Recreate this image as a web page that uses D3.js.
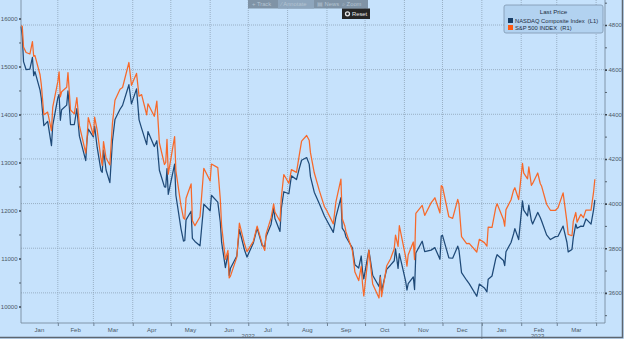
<!DOCTYPE html>
<html>
<head>
<meta charset="utf-8">
<script src="https://cdn.jsdelivr.net/npm/d3@7"></script>
<style>
  body { margin: 0; background: #c6e2fc; }
  svg { display: block; font-family: "Liberation Sans", Arial, sans-serif; }
  .tick-label { font-size: 6px; fill: #4b5866; }
  .grid line { stroke: #8ea3b8; stroke-dasharray: 1,1; stroke-width: 0.8; }
</style>
</head>
<body>
<script>
// Chart data (daily closes, sampled)
var dates = [
  "2022-01-03","2022-01-04","2022-01-05","2022-01-07","2022-01-10","2022-01-12","2022-01-13","2022-01-14","2022-01-18","2022-01-19","2022-01-21","2022-01-24","2022-01-27","2022-01-28",
  "2022-02-01","2022-02-02","2022-02-03","2022-02-04","2022-02-08","2022-02-09","2022-02-10","2022-02-11","2022-02-14","2022-02-16","2022-02-18","2022-02-23","2022-02-24","2022-02-25",
  "2022-03-01","2022-03-02","2022-03-04","2022-03-07","2022-03-08","2022-03-09","2022-03-11","2022-03-14","2022-03-16","2022-03-18","2022-03-22","2022-03-24","2022-03-29","2022-03-31",
  "2022-04-04","2022-04-06","2022-04-08","2022-04-12","2022-04-13","2022-04-18","2022-04-20","2022-04-22","2022-04-26","2022-04-27","2022-04-28","2022-04-29",
  "2022-05-04","2022-05-05","2022-05-09","2022-05-11","2022-05-12","2022-05-13","2022-05-17","2022-05-18","2022-05-20","2022-05-24","2022-05-27",
  "2022-06-01","2022-06-02","2022-06-07","2022-06-09","2022-06-10","2022-06-13","2022-06-15","2022-06-16","2022-06-17","2022-06-22","2022-06-24","2022-06-28","2022-06-30",
  "2022-07-05","2022-07-08","2022-07-12","2022-07-14","2022-07-15","2022-07-19","2022-07-21","2022-07-22","2022-07-26","2022-07-27","2022-07-29",
  "2022-08-02","2022-08-04","2022-08-08","2022-08-10","2022-08-12","2022-08-16","2022-08-18","2022-08-19","2022-08-22","2022-08-26","2022-08-30",
  "2022-09-01","2022-09-06","2022-09-08","2022-09-12","2022-09-13","2022-09-15","2022-09-16","2022-09-21","2022-09-23","2022-09-26","2022-09-28","2022-09-29","2022-09-30",
  "2022-10-04","2022-10-07","2022-10-12","2022-10-13","2022-10-14","2022-10-18","2022-10-21","2022-10-24","2022-10-25","2022-10-27","2022-10-28",
  "2022-11-02","2022-11-03","2022-11-04","2022-11-08","2022-11-09","2022-11-10","2022-11-15","2022-11-17","2022-11-22","2022-11-25","2022-11-29","2022-11-30",
  "2022-12-01","2022-12-06","2022-12-09","2022-12-13","2022-12-14","2022-12-16","2022-12-20","2022-12-22","2022-12-28","2022-12-30",
  "2023-01-03","2023-01-05","2023-01-06","2023-01-09","2023-01-12","2023-01-13","2023-01-18","2023-01-19","2023-01-20","2023-01-24","2023-01-26","2023-01-27","2023-01-30",
  "2023-02-02","2023-02-03","2023-02-06","2023-02-07","2023-02-09","2023-02-10","2023-02-14","2023-02-16","2023-02-17","2023-02-21","2023-02-24","2023-02-28",
  "2023-03-02","2023-03-06","2023-03-09","2023-03-10","2023-03-13","2023-03-14","2023-03-16","2023-03-17","2023-03-20","2023-03-22","2023-03-24","2023-03-28","2023-03-30","2023-03-31"
];

var nasdaq = [
  15833,15622,15100,14936,14943,15188,14807,14894,14506,14341,13769,13856,13353,13771,
  14346,14418,13879,14098,14195,14490,14186,13791,13791,14124,13548,13037,13474,13694,
  13532,13752,13313,12830,12796,13256,12843,12581,13437,13894,14109,14191,14620,14221,
  14533,13888,13711,13372,13643,13332,13453,12839,12491,12489,12872,12335,
  12965,12318,11623,11364,11371,11805,11985,11418,11355,11264,12131,
  11994,12317,12175,11754,11340,10809,11099,10646,10798,11053,11608,11182,11029,
  11322,11635,11265,11251,11452,11714,12059,11834,11563,12032,12391,
  12349,12721,12644,12855,13047,13103,12966,12705,12381,12141,11884,
  11785,11544,11862,12266,11634,11552,11448,11220,10868,10802,11052,10737,10576,
  11176,10652,10417,10649,10321,10773,10860,10953,11199,10793,11102,
  10525,10343,10475,10616,10353,11114,11359,11145,11174,11226,10984,11468,
  11482,11015,11005,11256,11170,10705,10547,10477,10213,10466,
  10386,10305,10569,10635,11001,11079,10958,10852,11140,11334,11512,11622,11394,
  12200,12007,11887,12114,11790,11718,11960,11855,11787,11492,11395,11456,
  11463,11675,11338,11138,11189,11428,11717,11630,11675,11670,11824,11716,12013,12222
];

var spx = [
  4797,4794,4701,4677,4670,4726,4660,4663,4577,4533,4398,4410,4327,4432,
  4546,4590,4478,4501,4521,4587,4504,4419,4402,4475,4349,4226,4289,4385,
  4306,4387,4329,4201,4171,4278,4204,4173,4358,4463,4512,4520,4632,4530,
  4583,4481,4488,4397,4447,4391,4459,4272,4175,4184,4288,4132,
  4300,4147,3991,3935,3930,4024,4088,3924,3901,3941,4158,
  4101,4177,4161,4018,3901,3750,3790,3667,3675,3760,3912,3821,3785,
  3831,3899,3819,3790,3863,3937,3999,3962,3921,4024,4130,
  4091,4152,4140,4210,4280,4305,4284,4228,4138,4058,3986,
  3967,3909,4006,4110,3933,3901,3873,3790,3693,3655,3719,3640,3586,
  3791,3640,3577,3670,3583,3720,3752,3798,3859,3808,3901,
  3760,3720,3771,3828,3749,3956,3992,3947,4003,4026,3958,4080,
  4076,3941,3934,4019,3996,3852,3821,3822,3783,3840,
  3825,3809,3895,3893,3983,3999,3929,3899,3973,4017,4060,4071,4018,
  4180,4136,4111,4164,4082,4090,4137,4090,4079,3997,3970,3970,
  3981,4048,3919,3862,3856,3920,3960,3917,3952,3937,3971,3971,4051,4109
];

var leftTicks = [10000, 11000, 12000, 13000, 14000, 15000, 16000];
var rightTicks = [3600, 3800, 4000, 4200, 4400, 4600, 4800];
var yearLabels = ["2022", "2023"];
var seriesNames = ["NASDAQ Composite Index  (L1)", "S&P 500 INDEX  (R1)"];
var seriesColors = ["#1f4a78", "#f7692a"];
var toolbarItems = ["+ Track", "\u2215 Annotate", "\u25A4 News", "\u2315 Zoom"];

console.log(dates.length, nasdaq.length, spx.length);

// Chart Params
var svgWidth = 624;
var svgHeight = 339;
var margin = { top: 0, right: 19, bottom: 16, left: 21 };
var width = svgWidth - margin.left - margin.right;
var height = svgHeight - margin.top - margin.bottom;

var parseDate = d3.timeParse("%Y-%m-%d");
var data = dates.map(function (d, i) {
  return { date: parseDate(d), nasdaq: nasdaq[i], spx: spx[i] };
});

var svg = d3.select("body")
  .append("svg")
  .attr("width", svgWidth)
  .attr("height", svgHeight);

svg.append("rect")
  .attr("width", svgWidth)
  .attr("height", svgHeight)
  .attr("fill", "#c6e2fc");

var chartGroup = svg.append("g")
  .attr("transform", `translate(${margin.left}, ${margin.top})`);

// scales
var xScale = d3.scaleTime()
  .domain([parseDate("2022-01-03"), parseDate("2023-04-08")])
  .range([0, width]);

var yLeft = d3.scaleLinear()
  .domain([9656, 16385])
  .range([height, 0]);

var yRight = d3.scaleLinear()
  .domain([3465, 4912])
  .range([height, 0]);

// grid lines
var monthStarts = d3.timeMonth.range(parseDate("2022-02-01"), parseDate("2023-04-02"));

chartGroup.append("g")
  .attr("class", "grid")
  .selectAll("line")
  .data(monthStarts)
  .enter()
  .append("line")
  .attr("x1", d => xScale(d))
  .attr("x2", d => xScale(d))
  .attr("y1", 0)
  .attr("y2", height);

chartGroup.append("g")
  .attr("class", "grid")
  .selectAll("line")
  .data(rightTicks)
  .enter()
  .append("line")
  .attr("x1", 0)
  .attr("x2", width)
  .attr("y1", d => yRight(d))
  .attr("y2", d => yRight(d));

// lines
var nasdaqLine = d3.line()
  .x(d => xScale(d.date))
  .y(d => yLeft(d.nasdaq));

var spxLine = d3.line()
  .x(d => xScale(d.date))
  .y(d => yRight(d.spx));

chartGroup.append("path")
  .datum(data)
  .attr("fill", "none")
  .attr("stroke", seriesColors[0])
  .attr("stroke-width", 1.25)
  .attr("stroke-linejoin", "round")
  .attr("d", nasdaqLine);

chartGroup.append("path")
  .datum(data)
  .attr("fill", "none")
  .attr("stroke", seriesColors[1])
  .attr("stroke-width", 1.25)
  .attr("stroke-linejoin", "round")
  .attr("d", spxLine);

// frame
chartGroup.append("path")
  .attr("d", `M0,0V${height}H${width}V0`)
  .attr("fill", "none")
  .attr("stroke", "#6f8396")
  .attr("stroke-width", 0.8);

// left axis
var leftAxis = d3.axisLeft(yLeft)
  .tickValues(d3.range(10000, 16001, 500))
  .tickSize(2)
  .tickFormat(d => (leftTicks.indexOf(d) >= 0 ? d : ""));

var gLeft = chartGroup.append("g").call(leftAxis);
gLeft.select(".domain").remove();
gLeft.selectAll("line").attr("stroke", "#3b4652").attr("stroke-width", d => (d % 1000 === 0 ? 1.6 : 0.8));
gLeft.selectAll("text").attr("class", "tick-label").attr("font-size", null).attr("font-family", null).attr("x", -3.5);

// right axis
var rightAxis = d3.axisRight(yRight)
  .tickValues(d3.range(3500, 4901, 100))
  .tickSize(2)
  .tickFormat(d => (rightTicks.indexOf(d) >= 0 ? d : ""));

var gRight = chartGroup.append("g")
  .attr("transform", `translate(${width}, 0)`)
  .call(rightAxis);
gRight.select(".domain").remove();
gRight.selectAll("line").attr("stroke", "#3b4652").attr("stroke-width", d => (d % 200 === 0 ? 1.6 : 0.8));
gRight.selectAll("text").attr("class", "tick-label").attr("font-size", null).attr("font-family", null).attr("x", 3.5);

// bottom axis: month boundaries as ticks, labels centred in months
var bottomAxis = d3.axisBottom(xScale)
  .tickValues(monthStarts)
  .tickSize(3)
  .tickFormat("");
var gBottom = chartGroup.append("g")
  .attr("transform", `translate(0, ${height})`)
  .call(bottomAxis);
gBottom.select(".domain").remove();
gBottom.selectAll("line").attr("stroke", "#6f8396");

var monthMids = d3.timeMonth.range(parseDate("2022-01-01"), parseDate("2023-04-01")).map(function (m) {
  var next = d3.timeMonth.offset(m, 1);
  var a = Math.max(xScale(m), 0);
  return { x: (a + xScale(next)) / 2, label: d3.timeFormat("%b")(m) };
});

chartGroup.selectAll(".month-label")
  .data(monthMids)
  .enter()
  .append("text")
  .attr("class", "tick-label")
  .attr("x", d => d.x)
  .attr("y", height + 8.5)
  .attr("text-anchor", "middle")
  .text(d => d.label);

// years, placed under Jul 2022 and Feb 2023
var yearAnchors = [parseDate("2022-07-01"), parseDate("2023-02-14")];
chartGroup.selectAll(".year-label")
  .data(yearLabels)
  .enter()
  .append("text")
  .attr("class", "tick-label")
  .attr("x", (d, i) => xScale(yearAnchors[i]))
  .attr("y", height + 14.5)
  .attr("text-anchor", "middle")
  .text(d => d);

chartGroup.append("line")
  .attr("x1", xScale(parseDate("2023-01-01")))
  .attr("x2", xScale(parseDate("2023-01-01")))
  .attr("y1", height)
  .attr("y2", svgHeight)
  .attr("stroke", "#6f8396")
  .attr("stroke-width", 0.8);

// legend
var legend = svg.append("g").attr("transform", "translate(504, 5)");
legend.append("rect")
  .attr("width", 99)
  .attr("height", 28)
  .attr("rx", 2)
  .attr("fill", "#b2d2f0")
  .attr("stroke", "#7d96ad")
  .attr("stroke-width", 0.8);
legend.append("text")
  .attr("x", 49.5)
  .attr("y", 9)
  .attr("text-anchor", "middle")
  .attr("font-size", 6.2)
  .attr("fill", "#1d2d44")
  .text("Last Price");
var rows = legend.selectAll(".row")
  .data(seriesNames)
  .enter()
  .append("g")
  .attr("transform", (d, i) => `translate(4, ${13 + i * 7})`);
rows.append("rect")
  .attr("width", 5)
  .attr("height", 5)
  .attr("fill", (d, i) => (i === 1 ? "#ff5a12" : "#163d66"));
rows.append("text")
  .attr("x", 7)
  .attr("y", 4.6)
  .attr("font-size", 5.8)
  .attr("fill", "#1d2d44")
  .attr("xml:space", "preserve")
  .text(d => d);

// toolbar
var toolbar = svg.append("g").attr("transform", "translate(248, 0)");
toolbar.append("rect")
  .attr("width", 120)
  .attr("height", 8.5)
  .attr("fill", "#7f93a6");
toolbar.append("rect")
  .attr("x", 30)
  .attr("width", 36)
  .attr("height", 8.5)
  .attr("fill", "#8ea6bd");
var itemX = [4, 33, 69, 94];
toolbar.selectAll(".tool")
  .data(toolbarItems)
  .enter()
  .append("text")
  .attr("x", (d, i) => itemX[i])
  .attr("y", 6.3)
  .attr("font-size", 5.8)
  .attr("fill", "#b4c4d2")
  .text(d => d);

var reset = svg.append("g").attr("transform", "translate(342, 8.5)");
reset.append("rect")
  .attr("width", 28)
  .attr("height", 10.5)
  .attr("fill", "#262626");
reset.append("circle")
  .attr("cx", 5.5)
  .attr("cy", 5.3)
  .attr("r", 2)
  .attr("fill", "none")
  .attr("stroke", "#e6e6e6")
  .attr("stroke-width", 1.3);
reset.append("text")
  .attr("x", 10)
  .attr("y", 7.3)
  .attr("font-size", 5.8)
  .attr("fill", "#e8e8e8")
  .text("Reset");

// outer border
svg.append("path")
  .attr("d", `M0,${svgHeight - 1.5}H${svgWidth - 1.5}V0`)
  .attr("fill", "none")
  .attr("stroke", "#5d6670")
  .attr("stroke-width", 1.5);
</script>
</body>
</html>
